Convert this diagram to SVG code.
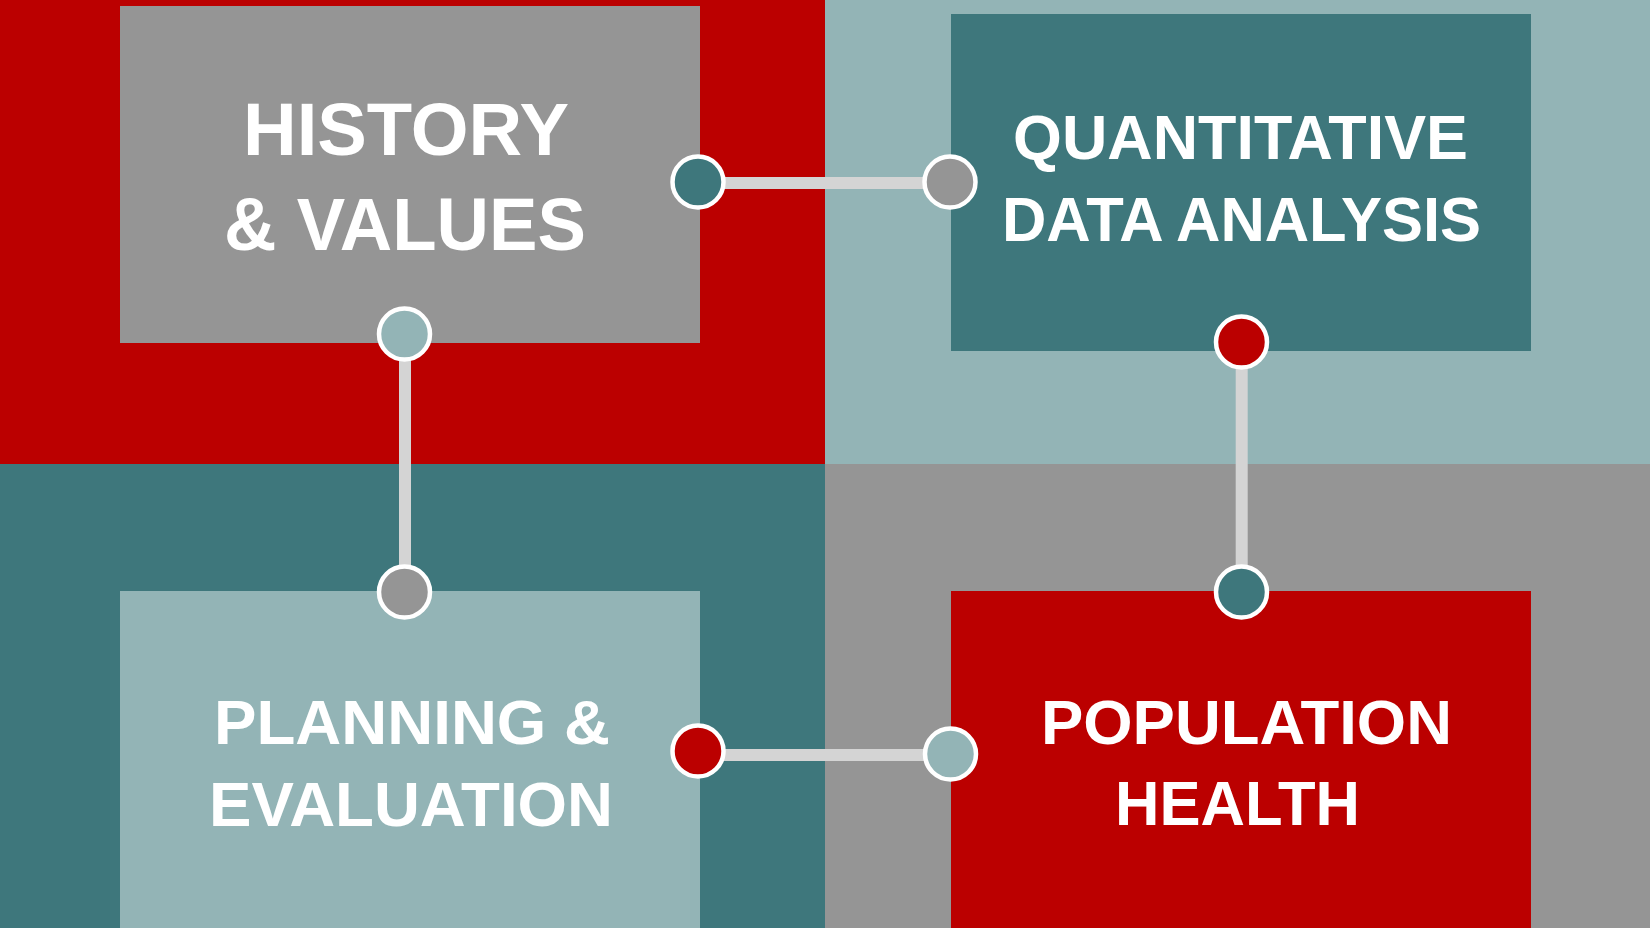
<svg xmlns="http://www.w3.org/2000/svg" width="1650" height="928" viewBox="0 0 1650 928">
<style>
.red{fill:#BB0000}.gray{fill:#959595}.teal{fill:#3E777C}.light{fill:#93B4B6}
.lbl{font-family:"Liberation Sans",Arial,sans-serif;font-weight:bold;fill:#FFFFFF}
.big{font-size:74px}.med{font-size:63px}
.conn{stroke:#D4D4D4;stroke-width:12;fill:none}
.dot{stroke:#FFFFFF;stroke-width:4.5}
</style>
<g id="background">
<rect class="red" x="0" y="0" width="825" height="464"/>
<rect class="light" x="825" y="0" width="825" height="464"/>
<rect class="teal" x="0" y="464" width="825" height="464"/>
<rect class="gray" x="825" y="464" width="825" height="464"/>
</g>
<g id="node-history">
<rect class="gray" x="120" y="6" width="580" height="337"/>
<text class="lbl big" x="243" y="155" textLength="326" lengthAdjust="spacingAndGlyphs">HISTORY</text>
<text class="lbl big" x="224" y="250" textLength="362" lengthAdjust="spacingAndGlyphs">&amp; VALUES</text>
</g>
<g id="node-quantitative">
<rect class="teal" x="951" y="14" width="580" height="337"/>
<text class="lbl med" x="1013" y="159" textLength="455" lengthAdjust="spacingAndGlyphs">QUANTITATIVE</text>
<text class="lbl med" x="1002" y="241" textLength="479" lengthAdjust="spacingAndGlyphs">DATA ANALYSIS</text>
</g>
<g id="node-planning">
<rect class="light" x="120" y="591" width="580" height="337"/>
<text class="lbl med" x="214" y="744" textLength="396" lengthAdjust="spacingAndGlyphs">PLANNING &amp;</text>
<text class="lbl med" x="209" y="826" textLength="404" lengthAdjust="spacingAndGlyphs">EVALUATION</text>
</g>
<g id="node-population">
<rect class="red" x="951" y="591" width="580" height="337"/>
<text class="lbl med" x="1041" y="744" textLength="411" lengthAdjust="spacingAndGlyphs">POPULATION</text>
<text class="lbl med" x="1115" y="825" textLength="245" lengthAdjust="spacingAndGlyphs">HEALTH</text>
</g>
<g id="connectors">
<line class="conn" x1="698" y1="183" x2="950" y2="183"/>
<line class="conn" x1="405" y1="334" x2="405" y2="592"/>
<line class="conn" x1="1241.7" y1="342" x2="1241.7" y2="592"/>
<line class="conn" x1="698" y1="755" x2="950" y2="755"/>
<circle class="dot teal" cx="698" cy="182" r="25.5"/>
<circle class="dot gray" cx="950" cy="182" r="25.5"/>
<circle class="dot light" cx="404.5" cy="334" r="25.5"/>
<circle class="dot gray" cx="404.5" cy="592" r="25.5"/>
<circle class="dot red" cx="1241.5" cy="342" r="25.5"/>
<circle class="dot teal" cx="1241.5" cy="592" r="25.5"/>
<circle class="dot red" cx="698" cy="751" r="25.5"/>
<circle class="dot light" cx="950.5" cy="754" r="25.5"/>
</g>
</svg>
